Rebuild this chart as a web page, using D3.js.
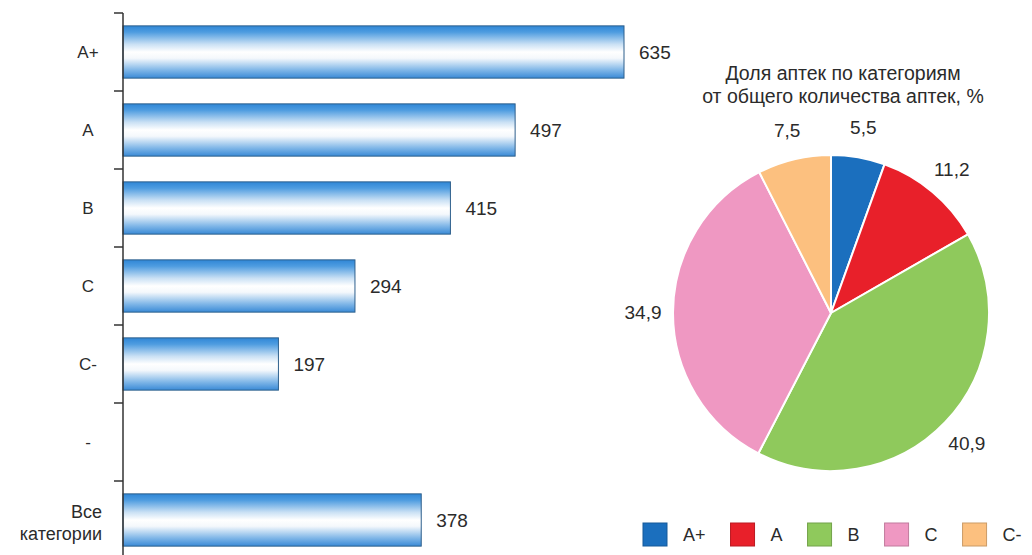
<!DOCTYPE html>
<html><head><meta charset="utf-8">
<script src="https://cdn.jsdelivr.net/npm/d3@7"></script>
<style>
body{margin:0;background:#fff;}
text{font-family:"Liberation Sans",Arial,sans-serif;fill:#2b2b2b;}
</style></head>
<body><svg id="c" width="1032" height="555"></svg>
<script>
// Bar chart data
const barCategories = ["A+", "A", "B", "C", "C-", "-", "Все\nкатегории"];
const barValues = [635, 497, 415, 294, 197, null, 378];
// Pie chart data
const pieCategories = ["A+", "A", "B", "C", "C-"];
const pieValues = [5.5, 11.2, 40.9, 34.9, 7.5];
const pieColors = ["#1b6fbe", "#e8202a", "#8fc95c", "#ef98c2", "#fcc07f"];
const pieTitle = ["Доля аптек по категориям", "от общего количества аптек, %"];

const svg = d3.select("#c");
const defs = svg.append("defs");
const g = defs.append("linearGradient").attr("id","barGrad").attr("x1",0).attr("y1",0).attr("x2",0).attr("y2",1);
[[0,"#2f86d6"],[0.12,"#4e9ce0"],[0.35,"#c9e0f4"],[0.5,"#ffffff"],[0.62,"#f4f8fc"],[0.85,"#7db5e7"],[1,"#3a8ad6"]]
  .forEach(([o,c])=>g.append("stop").attr("offset",o).attr("stop-color",c));

// ---- Bar chart ----
const axisX = 123;
const x = d3.scaleLinear().domain([0, 635]).range([axisX, 624]);
const y = d3.scaleBand().domain(barCategories).range([13, 13 + 78 * barCategories.length])
  .paddingInner(0.33).paddingOuter(0.165);
const step = y.step();
const off = (step - y.bandwidth()) / 2;

const bars = svg.append("g");
barCategories.forEach((c, i) => {
  const v = barValues[i];
  if (v == null) return;
  bars.append("rect").attr("x", x(0)).attr("y", y(c)).attr("width", x(v) - x(0)).attr("height", y.bandwidth())
    .attr("fill", "url(#barGrad)").attr("stroke", "#2d5f8c").attr("stroke-width", 1);
  bars.append("text").attr("x", x(v) + 15).attr("y", y(c) + y.bandwidth() / 2).attr("dy", "0.35em")
    .attr("font-size", 19).text(v);
});

// axis line and ticks
const ax = svg.append("g");
ax.append("line").attr("x1", axisX).attr("x2", axisX).attr("y1", 13).attr("y2", 555)
  .attr("stroke", "#333").attr("stroke-width", 1.5);
barCategories.forEach(c => {
  const ty = y(c) - off;
  ax.append("line").attr("x1", axisX - 9).attr("x2", axisX).attr("y1", ty).attr("y2", ty)
    .attr("stroke", "#333").attr("stroke-width", 1.5);
});
barCategories.forEach(c => {
  const lines = c.split("\n");
  const cy = y(c) + y.bandwidth() / 2;
  const t = ax.append("text").attr("font-size", 17);
  if (lines.length === 1) {
    t.attr("x", 88).attr("y", cy).attr("dy", "0.35em").attr("text-anchor", "middle").text(c);
  } else {
    t.attr("text-anchor", "end").attr("font-size", 18);
    lines.forEach((l, k) => t.append("tspan").attr("x", 102).attr("y", cy - 8 + k * 22).attr("dy", "0.35em").text(l));
  }
});

// ---- Pie chart ----
const cx = 831, cy = 313, r = 158;
const pie = d3.pie().sort(null).value(d => d)(pieValues);
const arc = d3.arc().innerRadius(0).outerRadius(r);
const labelArc = d3.arc().innerRadius(188).outerRadius(188);
const pg = svg.append("g").attr("transform", `translate(${cx},${cy})`);
pg.selectAll("path").data(pie).join("path").attr("d", arc)
  .attr("fill", (d, i) => pieColors[i]).attr("stroke", "#fff").attr("stroke-width", 2);
const fmt = d3.formatLocale({decimal: ",", thousands: " ", grouping: [3], currency: ["", ""]}).format(".1f");
pg.selectAll("text.pl").data(pie).join("text").attr("class", "pl")
  .attr("transform", d => `translate(${labelArc.centroid(d)})`)
  .attr("text-anchor", "middle").attr("dy", "0.35em").attr("font-size", 19)
  .text(d => fmt(d.data));

// title
svg.append("text").attr("x", 843).attr("y", 80).attr("text-anchor", "middle").attr("font-size", 19.5).text(pieTitle[0]);
svg.append("text").attr("x", 843).attr("y", 103).attr("text-anchor", "middle").attr("font-size", 19.5).text(pieTitle[1]);

// legend
const lg = svg.append("g");
let lx = 643;
pieCategories.forEach((c, i) => {
  lg.append("rect").attr("x", lx).attr("y", 523).attr("width", 24).attr("height", 23)
    .attr("fill", pieColors[i]).attr("stroke", d3.color(pieColors[i]).darker(0.6)).attr("stroke-width", 1);
  const t = lg.append("text").attr("x", lx + 40).attr("y", 535).attr("dy", "0.35em").attr("font-size", 18).text(c);
  lx += 40 + t.node().getComputedTextLength() + 25;
});
</script></body></html>
